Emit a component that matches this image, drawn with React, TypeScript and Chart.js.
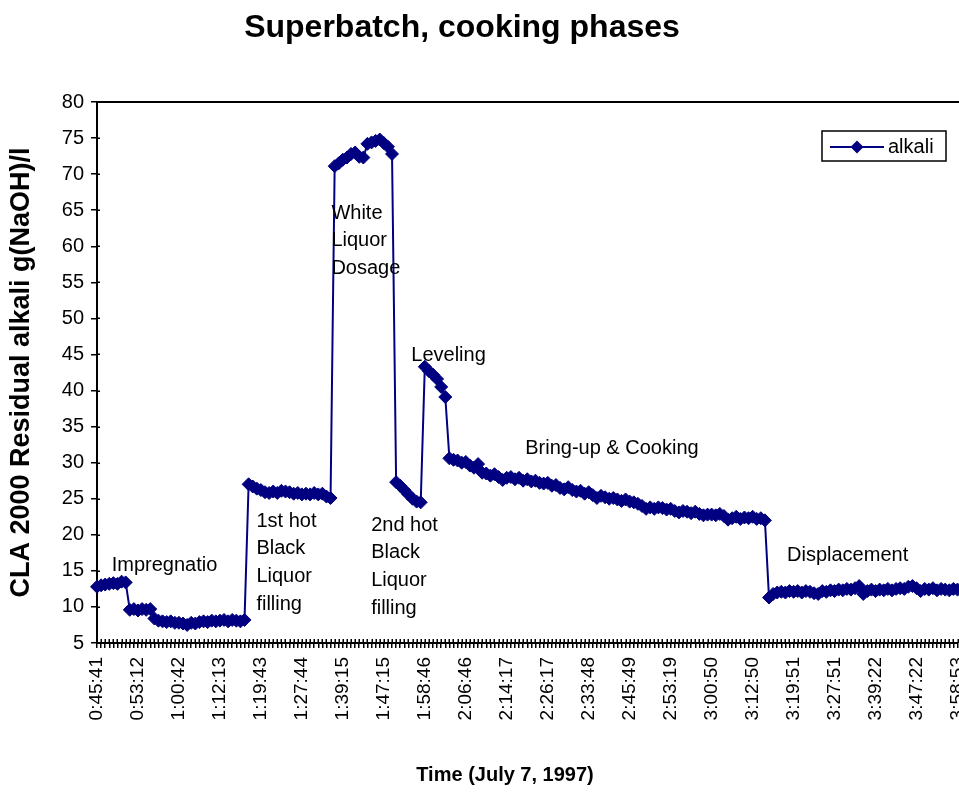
import React, { useEffect, useRef } from 'react';
import { Chart, registerables } from 'chart.js';

Chart.register(...registerables);

// Tick labels shown every 10th sample on the category axis
const TICK_TIMES = [
  '0:45:41', '0:53:12', '1:00:42', '1:12:13', '1:19:43', '1:27:44', '1:39:15', '1:47:15',
  '1:58:46', '2:06:46', '2:14:17', '2:26:17', '2:33:48', '2:45:49', '2:53:19', '3:00:50',
  '3:12:50', '3:19:51', '3:27:51', '3:39:22', '3:47:22', '3:58:53',
];
const SAMPLES_PER_TICK = 10;

// Residual alkali, g(NaOH)/l, one value per sample
const IMPREGNATION = [12.8, 13.0, 13.1, 13.2, 13.3, 13.2, 13.5, 13.4, 9.6, 9.7, 9.5, 9.7, 9.6, 9.7,
  8.4, 8.1, 8.0, 7.9, 8.0, 7.8, 7.8, 7.7, 7.5, 7.8, 7.7, 7.9, 8.0, 7.9, 8.1, 8.0, 8.1, 8.2, 8.0, 8.2, 8.1, 8.0, 8.2];
const FIRST_BLACK_LIQUOR = [27.0, 26.7, 26.4, 26.2, 25.9, 25.8, 26.0, 25.8, 26.1, 26.0, 25.9, 25.7, 25.8,
  25.6, 25.7, 25.6, 25.8, 25.6, 25.7, 25.3, 25.1];
const WHITE_LIQUOR = [71.1, 71.5, 72.0, 72.3, 72.8, 73.0, 72.4, 72.3, 74.2, 74.4, 74.6, 74.8, 74.3, 73.8, 72.8];
const SECOND_BLACK_LIQUOR = [27.3, 26.8, 26.2, 25.6, 25.0, 24.6, 24.5];
const LEVELING = [43.3, 42.7, 42.2, 41.6, 40.5, 39.1];
const COOKING = [30.6, 30.4, 30.3, 30.0, 30.1, 29.6, 29.3, 29.8, 28.6, 28.5,
  28.2, 28.4, 28.0, 27.6, 27.9, 28.0, 27.7, 27.9, 27.5, 27.7,
  27.4, 27.5, 27.2, 27.1, 27.2, 26.8, 26.9, 26.5, 26.3, 26.6,
  26.2, 26.0, 26.1, 25.7, 25.9, 25.5, 25.1, 25.4, 25.2, 25.0,
  25.1, 24.9, 24.7, 24.9, 24.6, 24.5, 24.3, 24.0, 23.6, 23.8,
  23.6, 23.8, 23.7, 23.5, 23.6, 23.3, 23.1, 23.3, 23.2, 23.0,
  23.2, 22.9, 22.7, 22.8, 22.8, 22.7, 22.9, 22.6, 22.1, 22.3,
  22.5, 22.2, 22.4, 22.3, 22.5, 22.2, 22.3, 22.0];
const DISPLACEMENT = [11.3, 11.8, 12.0, 12.1, 12.0, 12.2, 12.1, 12.2, 12.0, 12.2,
  12.1, 11.9, 11.8, 12.2, 12.1, 12.3, 12.2, 12.4, 12.3, 12.5,
  12.4, 12.6, 12.9, 11.8, 12.2, 12.4, 12.2, 12.4, 12.3, 12.5,
  12.3, 12.5, 12.6, 12.5, 12.8, 12.9, 12.6, 12.2, 12.5, 12.4,
  12.6, 12.3, 12.5, 12.4, 12.3, 12.5, 12.4];

const ALKALI = [
  ...IMPREGNATION, ...FIRST_BLACK_LIQUOR, ...WHITE_LIQUOR, ...SECOND_BLACK_LIQUOR,
  ...LEVELING, ...COOKING, ...DISPLACEMENT,
];

const CATEGORIES = ALKALI.map((_, i) =>
  i % SAMPLES_PER_TICK === 0 ? (TICK_TIMES[i / SAMPLES_PER_TICK] ?? '') : '');

// Phase annotations anchored at (sample index, alkali value)
const PHASE_TEXT = [
  { lines: ['Impregnatio'], at: 3.6, value: 15.7 },
  { lines: ['1st hot', 'Black', 'Liquor', 'filling'], at: 38.9, value: 21.9 },
  { lines: ['White', 'Liquor', 'Dosage'], at: 57.2, value: 64.6 },
  { lines: ['2nd hot', 'Black', 'Liquor', 'filling'], at: 66.9, value: 21.35 },
  { lines: ['Leveling'], at: 76.7, value: 44.9 },
  { lines: ['Bring-up & Cooking'], at: 104.5, value: 32.0 },
  { lines: ['Displacement'], at: 168.4, value: 17.2 },
];

const Y_MIN = 5;
const Y_MAX = 80;
const Y_STEP = 5;

const FONT = "'Liberation Sans', Arial, Helvetica, sans-serif";
const NAVY = '#000080';

export default function App() {
  const ref = useRef<HTMLCanvasElement | null>(null);

  useEffect(() => {
    const canvas = ref.current;
    if (!canvas) return;

    const decor = {
      id: 'decor',
      afterDraw(chart: any) {
        const { ctx, chartArea: a, scales } = chart;
        const xs = scales.x;
        const ys = scales.y;
        ctx.save();
        // top border of plot area
        ctx.strokeStyle = '#000';
        ctx.lineWidth = 2;
        ctx.beginPath();
        ctx.moveTo(a.left - 1, a.top);
        ctx.lineTo(a.right + 2, a.top);
        ctx.stroke();
        // inner stubs of cross tick marks
        ctx.lineWidth = 1.5;
        ctx.beginPath();
        for (let i = 0; i < ALKALI.length; i++) {
          const px = Math.round(xs.getPixelForValue(i)) + 0.25;
          ctx.moveTo(px, a.bottom);
          ctx.lineTo(px, a.bottom - 4);
        }
        ys.ticks.forEach((t: any) => {
          const py = Math.round(ys.getPixelForValue(t.value)) + 0.25;
          ctx.moveTo(a.left, py);
          ctx.lineTo(a.left + 3, py);
        });
        ctx.stroke();

        // phase annotations
        ctx.fillStyle = '#000';
        ctx.font = `20px ${FONT}`;
        ctx.textAlign = 'left';
        ctx.textBaseline = 'middle';
        PHASE_TEXT.forEach((p) => {
          const px = xs.getPixelForValue(p.at);
          const py = ys.getPixelForValue(p.value);
          p.lines.forEach((line, k) => ctx.fillText(line, px, py + k * 27.8));
        });

        // title
        ctx.font = `bold 32px ${FONT}`;
        ctx.textAlign = 'center';
        ctx.textBaseline = 'alphabetic';
        ctx.fillText('Superbatch, cooking phases', 462, 37);

        // axis titles
        ctx.font = `bold 20px ${FONT}`;
        ctx.textBaseline = 'middle';
        ctx.fillText('Time (July 7, 1997)', 505, 775);
        ctx.save();
        ctx.font = `bold 27px ${FONT}`;
        ctx.translate(22, (a.top + a.bottom) / 2);
        ctx.rotate(-Math.PI / 2);
        ctx.fillText('CLA 2000 Residual alkali g(NaOH)/l', 0, 0);
        ctx.restore();

        // legend box
        const lx = 822, ly = 131, lw = 124, lh = 30;
        ctx.fillStyle = '#fff';
        ctx.fillRect(lx, ly, lw, lh);
        ctx.strokeStyle = '#000';
        ctx.lineWidth = 1.5;
        ctx.strokeRect(lx, ly, lw, lh);
        const cy = ly + lh / 2 + 1;
        ctx.strokeStyle = NAVY;
        ctx.lineWidth = 2;
        ctx.beginPath();
        ctx.moveTo(lx + 8, cy);
        ctx.lineTo(lx + 62, cy);
        ctx.stroke();
        ctx.fillStyle = NAVY;
        ctx.beginPath();
        ctx.moveTo(lx + 35, cy - 6.5);
        ctx.lineTo(lx + 41.5, cy);
        ctx.lineTo(lx + 35, cy + 6.5);
        ctx.lineTo(lx + 28.5, cy);
        ctx.closePath();
        ctx.fill();
        ctx.fillStyle = '#000';
        ctx.font = `20px ${FONT}`;
        ctx.textAlign = 'left';
        ctx.fillText('alkali', lx + 66, cy);
        ctx.restore();
      },
    };

    const chart = new Chart(canvas, {
      type: 'line',
      data: {
        labels: CATEGORIES,
        datasets: [
          {
            label: 'alkali',
            data: ALKALI,
            borderColor: NAVY,
            backgroundColor: NAVY,
            borderWidth: 2,
            tension: 0,
            pointStyle: 'rectRot',
            pointRadius: 6.5,
            pointBackgroundColor: NAVY,
            pointBorderColor: NAVY,
            pointBorderWidth: 1,
          },
        ],
      },
      options: {
        animation: false,
        responsive: false,
        maintainAspectRatio: false,
        layout: { padding: { left: 0, top: 102, right: 0, bottom: 0 } },
        plugins: {
          legend: { display: false },
          title: { display: false },
          tooltip: { enabled: false },
        },
        scales: {
          x: {
            type: 'category',
            offset: false,
            grid: { drawOnChartArea: false, drawTicks: true, tickLength: 5, color: '#000', lineWidth: 1.5 },
            border: { display: true, color: '#000', width: 2 },
            ticks: {
              autoSkip: false,
              minRotation: 90,
              maxRotation: 90,
              padding: 9,
              color: '#000',
              font: { family: FONT, size: 19 },
            },
            afterFit(s: any) {
              s.height = 152;
              s.paddingLeft = 0;
              s.paddingRight = 0;
            },
          },
          y: {
            min: Y_MIN,
            max: Y_MAX,
            ticks: { stepSize: Y_STEP, padding: 7, color: '#000', font: { family: FONT, size: 20 } },
            grid: { drawOnChartArea: false, tickLength: 6, color: '#000', lineWidth: 1.5 },
            border: { color: '#000', width: 2 },
            afterFit(s: any) {
              s.width = 97;
            },
          },
        },
      },
      plugins: [decor],
    });

    return () => chart.destroy();
  }, []);

  return (
    <div style={{ position: 'fixed', left: 0, top: 0, width: 959, height: 795, overflow: 'hidden', background: '#fff' }}>
      <canvas ref={ref} width={965} height={795} style={{ display: 'block', width: 965, height: 795 }} />
    </div>
  );
}
